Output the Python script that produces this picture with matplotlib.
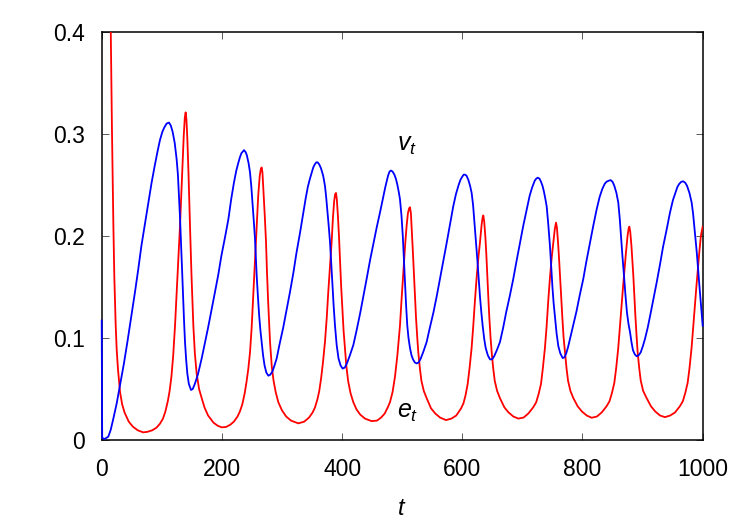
import matplotlib
matplotlib.use("Agg")
import matplotlib.pyplot as plt

# (t, value) pairs
e_points = [
    (0, 0.90), (10, 0.60), (13, 0.50), (15, 0.406), (17, 0.307), (19.4, 0.211), (21, 0.160),
    (23.3, 0.112), (25, 0.088), (27, 0.070), (30.5, 0.047), (34, 0.035), (38, 0.027),
    (45, 0.018), (52, 0.013), (60, 0.0095), (69, 0.0075), (76, 0.008), (84, 0.0095),
    (91, 0.012), (97, 0.016), (102, 0.021), (106, 0.028), (110, 0.038), (113, 0.048),
    (116, 0.062), (119, 0.083), (122, 0.112), (126, 0.160), (130.3, 0.210), (134, 0.262),
    (136.5, 0.298), (138.3, 0.316), (139.7, 0.321), (141, 0.314), (142.5, 0.295),
    (144.5, 0.260), (146.9, 0.210), (149.5, 0.160), (152.5, 0.112), (155, 0.085),
    (158, 0.065), (162, 0.050), (166.4, 0.041), (171, 0.032), (177, 0.024), (186, 0.017),
    (193, 0.014), (199.7, 0.0124), (207, 0.0128), (214, 0.015), (220, 0.018), (226, 0.023),
    (230, 0.028), (234, 0.035), (238, 0.046), (241, 0.057), (244, 0.070), (246.8, 0.086),
    (249.5, 0.110), (252, 0.140), (255, 0.175), (257.9, 0.210), (260.5, 0.240),
    (263, 0.259), (265, 0.266), (266.2, 0.267), (267.5, 0.262), (269.5, 0.240),
    (271.5, 0.218), (273.4, 0.194), (275, 0.165), (277, 0.135), (280.1, 0.096),
    (283, 0.072), (286, 0.058), (289.5, 0.047), (293.9, 0.037), (300, 0.029), (307, 0.023),
    (315, 0.019), (327.2, 0.0163), (337, 0.018), (345, 0.022), (351, 0.027), (355, 0.032),
    (359, 0.040), (362, 0.048), (365, 0.060), (368, 0.075), (371.5, 0.096), (374.5, 0.120),
    (377, 0.145), (380, 0.172), (382.6, 0.194), (384.8, 0.218), (386.8, 0.234),
    (388.5, 0.241), (389.8, 0.242), (391.2, 0.236), (393, 0.220), (394.8, 0.200),
    (396.5, 0.177), (398.5, 0.150), (400.5, 0.128), (402.5, 0.107), (404.8, 0.089),
    (407, 0.073), (410, 0.058), (414, 0.046), (418.7, 0.037), (424, 0.030), (430, 0.025),
    (438, 0.021), (449.2, 0.0185), (458, 0.019), (465, 0.022), (471, 0.026), (476, 0.032),
    (479.7, 0.037), (484, 0.047), (488, 0.062), (492, 0.083), (496.3, 0.112), (499, 0.138),
    (502, 0.165), (505, 0.192), (507.4, 0.210), (509.5, 0.222), (511.5, 0.227),
    (513, 0.228), (514.5, 0.222), (516.5, 0.200), (518, 0.182), (519.7, 0.161),
    (521.5, 0.139), (523, 0.120), (525, 0.101), (526.8, 0.086), (529.5, 0.070),
    (532, 0.058), (536, 0.048), (540.7, 0.041), (548, 0.031), (555, 0.026), (563, 0.022),
    (572.9, 0.0195), (582, 0.021), (590, 0.024), (598, 0.031), (602, 0.036), (605.5, 0.044),
    (609, 0.055), (612, 0.070), (615.5, 0.090), (618.3, 0.112), (621, 0.136), (624, 0.160),
    (627, 0.180), (629.5, 0.194), (632, 0.210), (633.8, 0.218), (635, 0.220),
    (636.5, 0.214), (638.5, 0.198), (640, 0.182), (641.6, 0.161), (643.3, 0.140),
    (645, 0.120), (647, 0.101), (648.9, 0.086), (651.5, 0.070), (654, 0.058), (658, 0.048),
    (662.7, 0.041), (670, 0.032), (677, 0.027), (685, 0.023), (693.2, 0.021), (702, 0.022),
    (710, 0.026), (718, 0.032), (723, 0.037), (727, 0.045), (731, 0.055), (734, 0.070),
    (737.5, 0.090), (740.4, 0.112), (743, 0.136), (746, 0.160), (749, 0.180),
    (751.5, 0.194), (754, 0.207), (756, 0.213), (757.5, 0.208), (759.5, 0.192),
    (761, 0.178), (762.6, 0.161), (764.5, 0.140), (766.5, 0.120), (768.5, 0.101),
    (770.9, 0.086), (773.5, 0.070), (776, 0.058), (780, 0.048), (784.8, 0.041),
    (792, 0.033), (799, 0.028), (807, 0.024), (815.3, 0.0218), (824, 0.023), (832, 0.027),
    (840, 0.033), (845, 0.038), (849, 0.046), (853, 0.056), (856, 0.070), (859.5, 0.090),
    (862.4, 0.112), (865, 0.132), (867.5, 0.150), (870, 0.168), (872.4, 0.184),
    (875, 0.200), (877, 0.208), (878, 0.209), (879.5, 0.204), (881.5, 0.190),
    (883, 0.176), (884.6, 0.161), (886.3, 0.141), (888, 0.122), (890, 0.102),
    (891.8, 0.086), (894.5, 0.070), (897, 0.058), (901, 0.048), (906.8, 0.041),
    (914, 0.033), (921, 0.028), (929, 0.024), (937.3, 0.0224), (946, 0.024), (954, 0.027),
    (962, 0.033), (967, 0.038), (971, 0.046), (975, 0.056), (978, 0.070), (981.5, 0.090),
    (984.4, 0.112), (987, 0.132), (989.5, 0.150), (992, 0.168), (994.4, 0.184),
    (997, 0.200), (1000, 0.209),
]

v_points = [
    (0, 0.117), (0.8, 0.002), (5, 0.001), (11, 0.0033), (15, 0.010), (19.4, 0.021),
    (25, 0.036), (30.5, 0.054), (37, 0.075), (43, 0.097), (49, 0.120), (55.4, 0.145),
    (61, 0.168), (66, 0.190), (72, 0.212), (77.6, 0.233), (83, 0.252), (88, 0.268),
    (93, 0.283), (97, 0.294), (101, 0.302), (104, 0.306), (108, 0.310), (112, 0.311),
    (115, 0.308), (118, 0.302), (121.5, 0.291), (124.7, 0.275), (126.8, 0.260),
    (128.5, 0.240), (130.3, 0.218), (132, 0.194), (133.8, 0.166), (135.5, 0.140),
    (137, 0.117), (138.6, 0.096), (140.5, 0.079), (142.5, 0.065), (145, 0.055),
    (148.6, 0.049), (151.5, 0.050), (155, 0.055), (160, 0.064), (166.4, 0.080),
    (171, 0.093), (177, 0.110), (183, 0.128), (188.5, 0.145), (194, 0.162), (199, 0.180),
    (205, 0.198), (210.7, 0.216), (215.5, 0.236), (220, 0.252), (224, 0.264),
    (227.3, 0.2715), (230, 0.277), (232.5, 0.281), (236.8, 0.284), (239.5, 0.282),
    (241.5, 0.279), (244.5, 0.271), (246.8, 0.262), (249, 0.248), (251, 0.232),
    (253, 0.215), (255, 0.198), (257.9, 0.161), (260, 0.140), (262, 0.122), (264, 0.108),
    (266.2, 0.096), (268.5, 0.083), (271, 0.073), (274, 0.066), (277.3, 0.063),
    (280.5, 0.064), (284, 0.067), (287.5, 0.073), (291.2, 0.080), (296, 0.094),
    (302, 0.110), (307.5, 0.127), (313.3, 0.145), (319, 0.164), (324, 0.183), (330, 0.203),
    (335.5, 0.223), (339.5, 0.237), (343, 0.248), (346.5, 0.256), (349.4, 0.262),
    (352, 0.267), (354.5, 0.270), (357, 0.272), (359.4, 0.272), (362, 0.270), (365, 0.266),
    (368.5, 0.259), (371.5, 0.249), (373.5, 0.238), (375.5, 0.225), (377.7, 0.210),
    (379.9, 0.194), (382, 0.173), (384, 0.152), (386, 0.131), (388.2, 0.112), (391, 0.093),
    (394, 0.080), (397.5, 0.073), (400.9, 0.070), (404.5, 0.071), (408, 0.075),
    (413, 0.083), (418.7, 0.093), (424, 0.107), (430, 0.124), (435.5, 0.141),
    (440.9, 0.158), (446.5, 0.176), (452, 0.192), (457.5, 0.208), (463.1, 0.223),
    (468, 0.237), (472, 0.248), (476.5, 0.259), (479, 0.263), (481.4, 0.264), (484, 0.263),
    (487, 0.260), (489.5, 0.256), (492, 0.250), (494.3, 0.243), (496.3, 0.236),
    (498.8, 0.220), (501, 0.200), (503, 0.175), (504.7, 0.155), (506.5, 0.132),
    (508.5, 0.112), (510.5, 0.100), (513, 0.090), (515.5, 0.083), (518, 0.079),
    (521, 0.076), (524.1, 0.075), (527.5, 0.076), (531, 0.080), (535.5, 0.087),
    (540.7, 0.096), (546, 0.110), (552, 0.125), (557.5, 0.141), (562.9, 0.158),
    (568.5, 0.176), (574, 0.193), (579.5, 0.211), (585, 0.229), (589.5, 0.241),
    (594, 0.250), (597, 0.255), (600, 0.258), (602.5, 0.260), (604.5, 0.260), (607, 0.259),
    (610, 0.255), (613, 0.249), (615.6, 0.242), (618, 0.230), (620, 0.215), (622.5, 0.197),
    (625, 0.177), (627.3, 0.158), (629.5, 0.140), (631.7, 0.125), (633.9, 0.112),
    (636.5, 0.099), (639, 0.090), (642.5, 0.083), (646.1, 0.079), (649.5, 0.079),
    (653, 0.082), (657.5, 0.088), (662.7, 0.096), (668, 0.110), (673, 0.125), (679, 0.141),
    (684.9, 0.158), (690.5, 0.176), (696, 0.193), (701.5, 0.210), (707.2, 0.226),
    (712, 0.239), (716, 0.247), (720.5, 0.254), (723, 0.256), (725.5, 0.257),
    (728.5, 0.256), (731, 0.253), (733.5, 0.249), (736, 0.243), (738.3, 0.236),
    (740.4, 0.229), (743, 0.212), (745.9, 0.190), (748, 0.170), (750, 0.150),
    (752, 0.134), (754.3, 0.120), (757, 0.104), (759.8, 0.092), (763, 0.085),
    (767, 0.0803), (770, 0.081), (773, 0.085), (776, 0.091), (779.2, 0.099),
    (784.5, 0.112), (790, 0.126), (795.5, 0.142), (801.4, 0.158), (806.5, 0.175),
    (812, 0.192), (818, 0.210), (823.6, 0.226), (828.5, 0.238), (833, 0.246),
    (837, 0.251), (840, 0.253), (843.5, 0.254), (846.9, 0.2546), (850, 0.253),
    (853, 0.249), (856.5, 0.242), (859.6, 0.2325), (862, 0.217), (864, 0.200),
    (866.5, 0.180), (869.1, 0.161), (871.5, 0.142), (874, 0.125), (876.5, 0.114),
    (879.1, 0.1057), (881.5, 0.096), (884, 0.088), (887, 0.084), (890.2, 0.082),
    (893.5, 0.083), (897, 0.086), (900.5, 0.092), (904, 0.099), (908.5, 0.110),
    (913, 0.123), (918, 0.138), (923.5, 0.1545), (929, 0.172), (934, 0.189), (940, 0.206),
    (945.6, 0.2228), (950.5, 0.235), (955, 0.243), (958, 0.248), (961, 0.251),
    (964.5, 0.253), (967.8, 0.2534), (971, 0.252), (974, 0.249), (978, 0.242),
    (981.7, 0.2325), (984, 0.222), (986, 0.210), (988, 0.198), (990, 0.185),
    (992.5, 0.166), (995, 0.148), (997.5, 0.130), (1000, 0.112),
]

x_ticks = [0, 200, 400, 600, 800, 1000]
y_ticks = [0, 0.1, 0.2, 0.3, 0.4]
y_tick_labels = ['0', '0.1', '0.2', '0.3', '0.4']

e_time = [p[0] for p in e_points]
e_vals = [p[1] for p in e_points]
v_time = [p[0] for p in v_points]
v_vals = [p[1] for p in v_points]

plt.rcParams['font.family'] = ['Liberation Sans', 'DejaVu Sans']
plt.rcParams['mathtext.fontset'] = 'custom'
plt.rcParams['mathtext.it'] = 'Liberation Sans:italic'
plt.rcParams['mathtext.rm'] = 'Liberation Sans'

fig = plt.figure(figsize=(7.5, 5.25), dpi=100)
ax = fig.add_axes([0.1356, 0.1619, 0.8013, 0.7777])

ax.plot(e_time, e_vals, color='#ff0000', linewidth=1.3, zorder=3)
# blue drawn over the frame so the jump at t=0 shows on the left spine
ax.plot(v_time, v_vals, color='#0000ff', linewidth=1.3, zorder=3, clip_on=False)

ax.set_xlim(0, 1000)
ax.set_ylim(0, 0.4)
ax.set_xticks(x_ticks)
ax.set_xticklabels([str(x) for x in x_ticks])
ax.set_yticks(y_ticks)
ax.set_yticklabels(y_tick_labels)

ax.tick_params(direction='in', length=5, width=0.7, color='0.35',
               top=True, right=True, labelsize=16.5)
ax.tick_params(axis='x', pad=13)
ax.tick_params(axis='y', pad=12)
for s in ax.spines.values():
    s.set_linewidth(1.1)

ax.set_xlabel(r'$t$', fontsize=17, labelpad=12)

ax.text(492, 0.283, r'$v_t$', fontsize=18, ha='left', va='baseline')
ax.text(491, 0.0215, r'$e_t$', fontsize=18, ha='left', va='baseline')

fig.savefig('out.png', dpi=100)
